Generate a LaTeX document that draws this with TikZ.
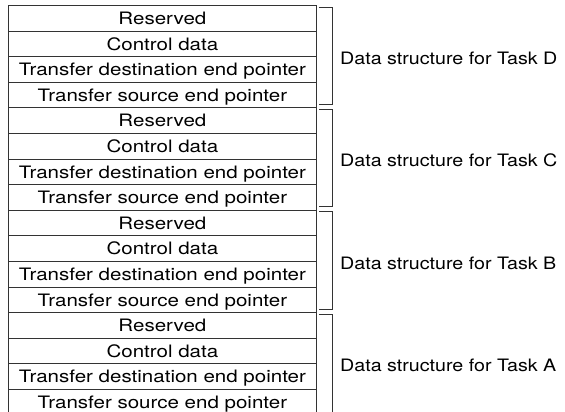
\documentclass[tikz,border=0pt]{standalone}
\usepackage{fontspec}
\setmainfont[FakeStretch=1.2]{TeX Gyre Heros}
\newfontfamily\lblfont[FakeStretch=1.15]{TeX Gyre Heros}
\begin{document}
\begin{tikzpicture}[x=1pt,y=-1pt,
  cell/.style={draw=black!80, line width=0.8pt, minimum width=308pt, minimum height=25.6pt,
    inner sep=0pt, anchor=north west, text height=12.6pt, text depth=0pt,
    font=\fontsize{17.1}{20}\selectfont},
  brace/.style={draw=black!80, line width=0.8pt},
  lbl/.style={anchor=west, inner sep=0pt, text height=12.4pt, text depth=0pt,
    font=\lblfont\fontsize{17.1}{20}\selectfont}]
\useasboundingbox (0,0) rectangle (565,412);
\clip (0,0) rectangle (565,412);
\foreach \g/\t [count=\i from 0] in {D/D,C/C,B/B,A/A}{
  \pgfmathsetmacro{\y}{5+102.4*\i}
  \pgfmathsetmacro{\yb}{\y+99.4+ifthenelse(\i==3,8,0)}
  \node[cell] (\g r) at (8,\y) {Reserved};
  \node[cell] (\g c) at (8,\y+25.6) {Control data};
  \node[cell] (\g d) at (8,\y+51.2) {Transfer destination end pointer};
  \node[cell] (\g s) at (8,\y+76.8) {Transfer source end pointer};
  \coordinate (\g t1) at (319,\y+2);
  \coordinate (\g t2) at (332,\y+2);
  \coordinate (\g b2) at (332,\yb);
  \coordinate (\g b1) at (319,\yb);
  \draw[brace] (\g t1) -- (\g t2) -- (\g b2) -- (\g b1);
  \node[lbl] (\g l) at (340,\y+53) {Data structure for Task \t};
}
\end{tikzpicture}
\end{document}
